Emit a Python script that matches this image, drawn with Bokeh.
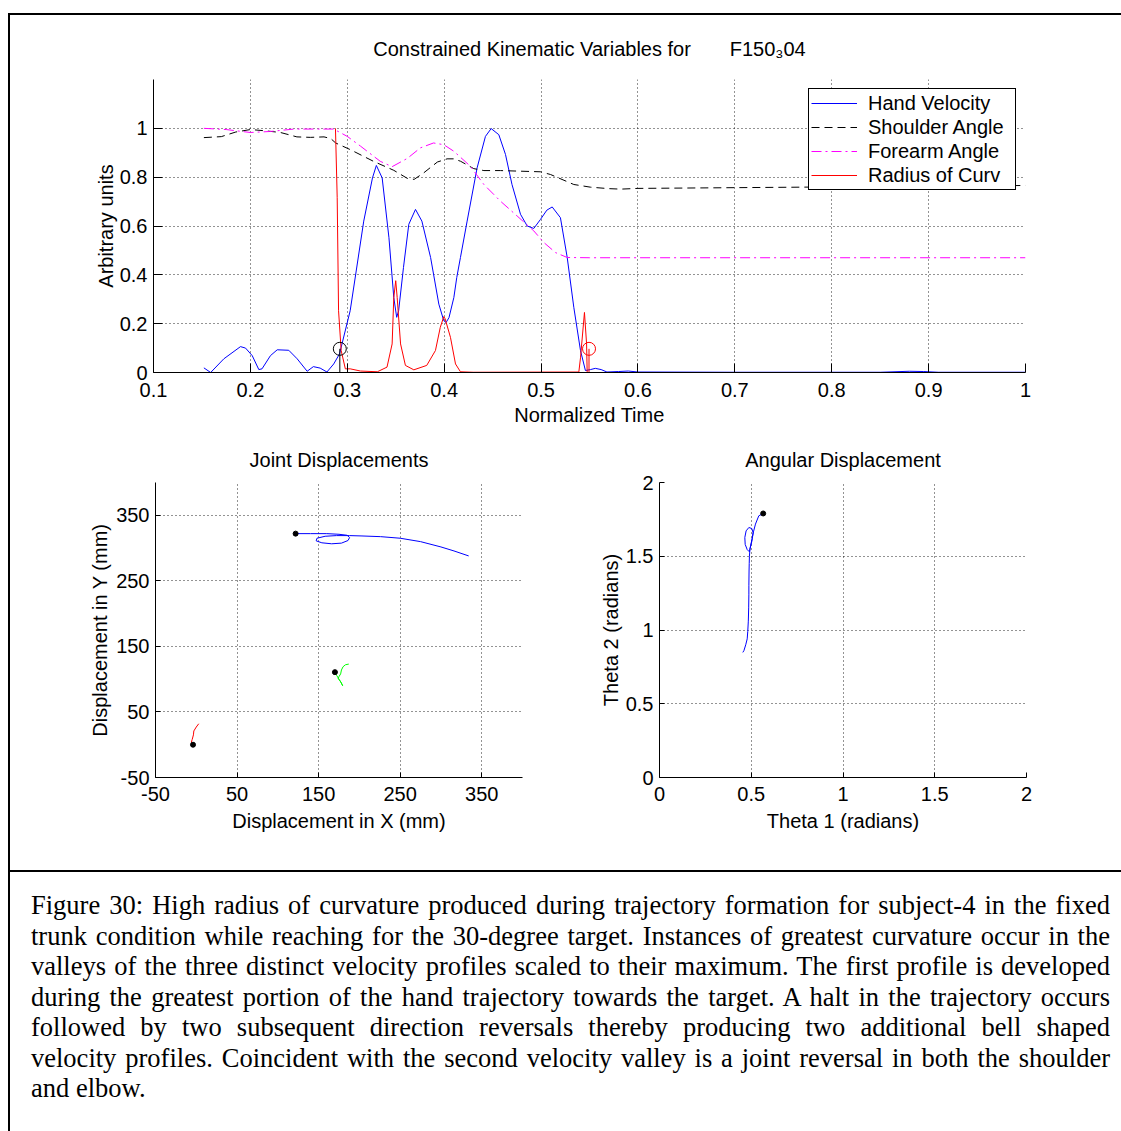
from bokeh.plotting import figure
from bokeh.models import FixedTicker, CustomJSTickFormatter, Legend, LegendItem, Div, Range1d
from bokeh.layouts import column, row
from bokeh.embed import file_html
from bokeh.resources import INLINE

# ---------------- data: top panel (normalized time) ----------------
t_hand = [0.152, 0.159, 0.1726, 0.1898, 0.195, 0.2019, 0.2087, 0.212, 0.2207, 0.2277, 0.2396,
          0.2483, 0.2586, 0.265, 0.272, 0.279, 0.286, 0.292, 0.303, 0.317, 0.326, 0.330, 0.336,
          0.343, 0.348, 0.351, 0.353, 0.358, 0.3635, 0.3704, 0.377, 0.386, 0.3945, 0.3996, 0.402,
          0.405, 0.410, 0.413, 0.4168, 0.4237, 0.434, 0.4426, 0.4485, 0.4564, 0.4633, 0.470,
          0.4788, 0.4857, 0.4925, 0.4994, 0.506, 0.5115, 0.520, 0.527, 0.5338, 0.5407, 0.5458,
          0.551, 0.556, 0.562, 0.568, 0.58, 0.59, 0.60, 0.70, 0.85, 0.88, 0.895, 0.91, 1.0]
v_hand = [0.019, 0.0, 0.056, 0.106, 0.100, 0.069, 0.012, 0.015, 0.069, 0.093, 0.091,
          0.056, 0.005, 0.024, 0.018, 0.002, 0.035, 0.076, 0.253, 0.620, 0.797, 0.848, 0.797,
          0.552, 0.307, 0.226, 0.253, 0.430, 0.607, 0.668, 0.620, 0.471, 0.280, 0.212, 0.205,
          0.225, 0.307, 0.389, 0.471, 0.620, 0.838, 0.967, 0.999, 0.974, 0.893, 0.770,
          0.648, 0.600, 0.590, 0.627, 0.665, 0.678, 0.634, 0.471, 0.267, 0.090, 0.008,
          0.012, 0.017, 0.012, 0.002, 0.004, 0.006, 0.002, 0.001, 0.001, 0.005, 0.004, 0.001, 0.001]

t_sh = [0.152, 0.17, 0.185, 0.20, 0.215, 0.231, 0.248, 0.262, 0.276, 0.283, 0.288, 0.303, 0.327,
        0.348, 0.362, 0.369, 0.379, 0.393, 0.403, 0.41, 0.417, 0.4305, 0.441, 0.458, 0.4994,
        0.5097, 0.5338, 0.551, 0.57, 0.582, 0.60, 0.70, 0.80, 0.90, 1.00]
v_sh = [0.962, 0.966, 0.985, 0.995, 0.990, 0.983, 0.965, 0.963, 0.965, 0.958, 0.940, 0.913, 0.865,
        0.828, 0.795, 0.791, 0.818, 0.862, 0.875, 0.875, 0.865, 0.835, 0.827, 0.827, 0.822,
        0.811, 0.770, 0.759, 0.753, 0.751, 0.754, 0.757, 0.760, 0.762, 0.766]

t_fa = [0.152, 0.175, 0.20, 0.22, 0.245, 0.286, 0.30, 0.3137, 0.334, 0.3463, 0.362, 0.3755,
        0.389, 0.3996, 0.41, 0.427, 0.441, 0.458, 0.4753, 0.4925, 0.503, 0.515, 0.527, 0.55, 1.0]
v_fa = [1.0, 0.995, 0.983, 0.987, 0.997, 0.997, 0.967, 0.927, 0.865, 0.843, 0.877, 0.920,
        0.940, 0.933, 0.906, 0.845, 0.770, 0.702, 0.641, 0.580, 0.532, 0.491, 0.471, 0.470, 0.470]

t_rc = [0.2878, 0.2896, 0.291, 0.2937, 0.298, 0.303, 0.3137, 0.331, 0.341, 0.3463, 0.348, 0.350,
        0.3515, 0.355, 0.360, 0.3687, 0.382, 0.391, 0.396, 0.3996, 0.401, 0.4065, 0.4117, 0.4168,
        0.43, 0.539, 0.5407, 0.5448, 0.547, 0.5476, 0.55]
v_rc = [1.0, 0.716, 0.253, 0.090, 0.015, 0.015, 0.006, 0.003, 0.022, 0.117, 0.307, 0.376,
        0.307, 0.117, 0.029, 0.011, 0.029, 0.090, 0.185, 0.229, 0.220, 0.144, 0.035, 0.003,
        0.001, 0.002, 0.060, 0.246, 0.117, 0.0, 0.0]

mark_t = [0.2923, 0.5495]
mark_v = [0.097, 0.097]
mark_c = ["#000000", "#ff0000"]

series_names = ["Hand Velocity", "Shoulder Angle", "Forearm Angle", "Radius of Curv"]

top_xticks = [0.1, 0.2, 0.3, 0.4, 0.5, 0.6, 0.7, 0.8, 0.9, 1.0]
top_yticks = [0, 0.2, 0.4, 0.6, 0.8, 1.0]

# ---------------- data: joint displacements (mm) ----------------
hand_x = [121.8, 140, 160, 175, 185, 188, 186, 178, 166, 154, 147, 148, 158, 172, 188, 202, 226,
          250, 275, 300, 316, 334]
hand_y = [322, 322, 322, 321, 319.5, 316, 311.5, 307.5, 306.5, 308, 311, 315, 318, 319, 319, 318.5,
          317.4, 315, 309.8, 301.7, 295.6, 288]
elbow_x = [170, 172, 175, 178, 179.5, 177, 174, 175, 177, 178, 180, 183, 187]
elbow_y = [110.7, 106, 100, 94, 90, 96, 101, 104, 108, 114, 119, 122, 123]
shoulder_x = [-4, -6, -5, -3.5, -3, 0, 3]
shoulder_y = [0, 4, 8, 15, 21, 27, 32]
start_x = [121.8, 170, -4]
start_y = [322, 110.7, 0]
disp_ticks = [-50, 50, 150, 250, 350]

# ---------------- data: angular displacement (radians) ----------------
theta1 = [0.565, 0.541, 0.523, 0.512, 0.505, 0.497, 0.490, 0.478, 0.467, 0.465, 0.472, 0.487,
          0.503, 0.510, 0.503, 0.493, 0.490, 0.489, 0.488, 0.487, 0.487, 0.486, 0.484, 0.481,
          0.478, 0.470, 0.460, 0.454]
theta2 = [1.790, 1.774, 1.718, 1.665, 1.620, 1.575, 1.530, 1.545, 1.580, 1.627, 1.672, 1.695,
          1.688, 1.660, 1.600, 1.550, 1.500, 1.450, 1.400, 1.300, 1.243, 1.150, 1.060, 0.990,
          0.940, 0.900, 0.860, 0.848]
theta_start = [0.565, 1.790]
ang_ticks = [0, 0.5, 1, 1.5, 2]

caption_lines = [
    "Figure 30: High radius of curvature produced during trajectory formation for subject-4 in the fixed",
    "trunk condition while reaching for the 30-degree target. Instances of greatest curvature occur in the",
    "valleys of the three distinct velocity profiles scaled to their maximum. The first profile is developed",
    "during the greatest portion of the hand trajectory towards the target. A halt in the trajectory occurs",
    "followed by two subsequent direction reversals thereby producing two additional bell shaped",
    "velocity profiles. Coincident with the second velocity valley is a joint reversal in both the shoulder",
    "and elbow.",
]

FONT = "Liberation Sans"
FS = "20px"
BLUE, RED, MAGENTA, GREEN, BLACK = "#0000ff", "#ff0000", "#ff00ff", "#00ff00", "#000000"


def make_fig(fw, fh, bl, br, bt, bb, xr, yr, xt, yt, tick_in, title, xlabel, ylabel, tstand,
             xls, xas, yas):
    p = figure(frame_width=fw, frame_height=fh, min_border_left=bl, min_border_right=br,
               min_border_top=bt, min_border_bottom=bb, x_range=Range1d(*xr), y_range=Range1d(*yr),
               output_backend="svg", toolbar_location=None, tools="")
    p.outline_line_color = None
    p.background_fill_color = "white"
    p.border_fill_color = "white"
    p.title.text = title
    p.title.align = "center"
    p.title.text_font = FONT
    p.title.text_font_size = FS
    p.title.text_font_style = "normal"
    p.title.text_color = "black"
    p.title.standoff = tstand
    fmt = CustomJSTickFormatter(code="return String(tick);")
    for ax, t, lab in ((p.xaxis[0], xt, xlabel), (p.yaxis[0], yt, ylabel)):
        ax.ticker = FixedTicker(ticks=t, minor_ticks=[])
        ax.formatter = fmt
        ax.major_tick_in = tick_in
        ax.major_tick_out = 0
        ax.minor_tick_line_color = None
        ax.axis_line_color = "black"
        ax.major_tick_line_color = "black"
        ax.major_label_text_font = FONT
        ax.major_label_text_font_size = FS
        ax.major_label_text_color = "black"
        ax.axis_label = lab
        ax.axis_label_text_font = FONT
        ax.axis_label_text_font_size = FS
        ax.axis_label_text_font_style = "normal"
        ax.axis_label_text_color = "black"
    p.xaxis.major_label_standoff = xls
    p.xaxis.axis_label_standoff = xas
    p.yaxis.major_label_standoff = 6
    p.yaxis.axis_label_standoff = yas
    for g in (p.xgrid[0], p.ygrid[0]):
        g.grid_line_color = "black"
        g.grid_line_dash = "1 3"
        g.grid_line_alpha = 0.85
    return p


# ---------------- top figure ----------------
top = make_fig(872, 293, 143, 96, 64, 63, (0.1, 1.0), (0, 1.2), top_xticks, top_yticks, 9,
               "Constrained Kinematic Variables for" + "\u00a0" * 7 + "F150\u208304",
               "Normalized Time", "Arbitrary units", 40, 10, 4, 0)
styles = [dict(line_color=BLUE), dict(line_color=BLACK, line_dash="8 5"),
          dict(line_color=MAGENTA, line_dash="10 4 2 4"), dict(line_color=RED)]
renderers = []
for (tx, vy), st in zip(((t_hand, v_hand), (t_sh, v_sh), (t_fa, v_fa), (t_rc, v_rc)), styles):
    renderers.append(top.line(tx, vy, line_width=1, **st))
top.segment(x0=mark_t, y0=[0, 0], x1=mark_t, y1=mark_v, line_color=mark_c, line_width=1)
top.scatter(mark_t, mark_v, marker="circle", size=13, fill_color=None, line_color=mark_c,
            line_width=1)

legend = Legend(items=[LegendItem(label=n, renderers=[r]) for n, r in zip(series_names, renderers)],
                location="top_right")
legend.margin = 9
legend.padding = 2
legend.spacing = 0
legend.glyph_width = 46
legend.glyph_height = 24
legend.label_height = 24
legend.label_width = 145
legend.label_standoff = 11
legend.label_text_font = FONT
legend.label_text_font_size = FS
legend.label_text_color = "black"
legend.border_line_color = "black"
legend.border_line_width = 1
legend.border_line_alpha = 1
legend.background_fill_color = "white"
legend.background_fill_alpha = 1
top.add_layout(legend)

# ---------------- bottom-left: joint displacements ----------------
jd = make_fig(367, 295, 145, 38, 47, 93, (-50, 400), (-50, 400), disp_ticks, disp_ticks, 5,
              "Joint Displacements", "Displacement in X (mm)", "Displacement in Y (mm)", 23,
              9, 6, 2)
jd.line(hand_x, hand_y, line_color=BLUE, line_width=1)
jd.line(elbow_x, elbow_y, line_color=GREEN, line_width=1)
jd.line(shoulder_x, shoulder_y, line_color=RED, line_width=1)
jd.scatter(start_x, start_y, marker="circle", size=5, fill_color=BLACK, line_color=BLACK)

# ---------------- bottom-right: angular displacement ----------------
ad = make_fig(367, 295, 99, 95, 47, 93, (0, 2), (0, 2), ang_ticks, ang_ticks, 5,
              "Angular Displacement", "Theta 1 (radians)", "Theta 2 (radians)", 23,
              9, 6, 1)
ad.line(theta1, theta2, line_color=BLUE, line_width=1)
ad.scatter([theta_start[0]], [theta_start[1]], marker="circle", size=5, fill_color=BLACK,
           line_color=BLACK)

# ---------------- caption + frame lines ----------------
line_style = ("height:30.5px;line-height:30.5px;white-space:nowrap;"
              "text-align:justify;text-align-last:justify;")
body = "".join(f'<div style="{line_style}">{t}</div>' for t in caption_lines[:-1])
body += (f'<div style="height:30.5px;line-height:30.5px;white-space:nowrap;text-align:left;">'
         f'{caption_lines[-1]}</div>')
cap_html = ('<div style="box-sizing:content-box;font-family:\'Liberation Serif\',\'Times New Roman\','
            'serif;font-size:26.5px;color:black;width:1079px;padding:18px 0 0 21px;">' + body + '</div>')
caption = Div(text=cap_html, width=1111, height=259, margin=0)


def bar(w, h, color):
    return Div(text="", width=w, height=h, margin=0,
               styles={"background-color": color, "padding": "0px"})


inner = column(bar(1111, 2, "black"), top, row(jd, ad, spacing=0), bar(1111, 2, "black"), caption,
               spacing=0)
page = column(bar(1121, 13, "white"),
              row(bar(8, 1118, "white"), bar(2, 1118, "black"), inner, spacing=0),
              spacing=0)

open("out.html", "w").write(file_html(page, INLINE, "Figure 30"))
